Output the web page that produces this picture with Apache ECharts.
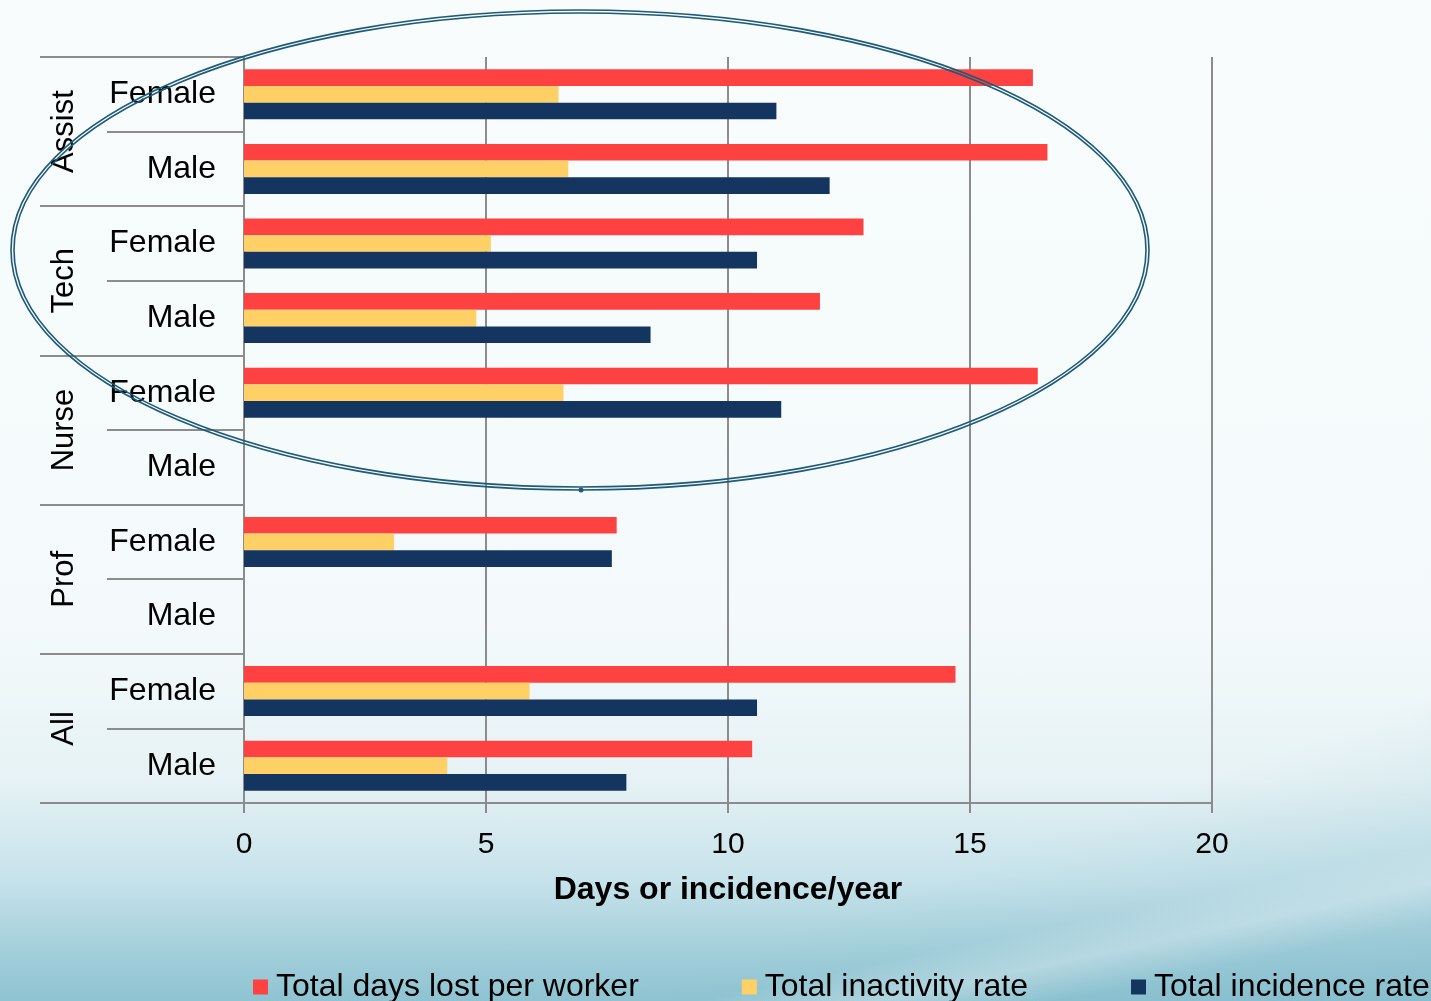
<!DOCTYPE html>
<html>
<head>
<meta charset="utf-8">
<title>Days lost and incidence by staff group</title>
<script src="https://cdn.jsdelivr.net/npm/echarts@6/dist/echarts.min.js"></script>
<style>
  html, body { margin: 0; padding: 0; width: 1431px; height: 1001px; overflow: hidden; }
  body {
    background:
      linear-gradient(160deg, rgba(142,195,209,0) 0%, rgba(142,195,209,0) 80%, rgba(120,180,198,0.35) 100%),
      linear-gradient(168deg, rgba(255,255,255,0) 0%, rgba(255,255,255,0) 88%, rgba(255,255,255,0.35) 91%, rgba(255,255,255,0) 94%),
      linear-gradient(to bottom, #f8fcfd 0%, #f4fafb 62%, #e6f2f5 78%, #c6e2ea 88%, #a3cfdb 95%, #8ec3d1 100%);
  }
  #chart { width: 1431px; height: 1001px; }
</style>
</head>
<body>
<div id="chart"></div>
<script>
// Staff groups (outer label) and sex (inner label), top to bottom
const groups = ['Assist', 'Tech', 'Nurse', 'Prof', 'All'];
const subCategories = ['Female', 'Male', 'Female', 'Male', 'Female', 'Male', 'Female', 'Male', 'Female', 'Male'];

// One value per row; null where no figure is reported
const daysLost = [16.3, 16.6, 12.8, 11.9, 16.4, null, 7.7, null, 14.7, 10.5];
const inactivityRate = [6.5, 6.7, 5.1, 4.8, 6.6, null, 3.1, null, 5.9, 4.2];
const incidenceRate = [11.0, 12.1, 10.6, 8.4, 11.1, null, 7.6, null, 10.6, 7.9];

const xTicks = { min: 0, max: 20, interval: 5 };

const gridLine = '#8c8c8c';
const font = 'Liberation Sans, Arial, sans-serif';

const chart = echarts.init(document.getElementById('chart'), null, { renderer: 'canvas' });

chart.setOption({
  backgroundColor: 'transparent',
  animation: false,
  textStyle: { fontFamily: font },
  grid: { left: 244, right: 219, top: 57, bottom: 198, containLabel: false },
  legend: {
    left: 253,
    top: 971,
    padding: 0,
    itemWidth: 15,
    itemHeight: 15,
    itemGap: 103,
    icon: 'rect',
    textStyle: { fontSize: 32, color: '#000', fontFamily: font, padding: [0, 0, 0, 3] },
    data: ['Total days lost per worker', 'Total inactivity rate', 'Total incidence rate']
  },
  xAxis: {
    type: 'value',
    min: xTicks.min,
    max: xTicks.max,
    interval: xTicks.interval,
    name: 'Days or incidence/year',
    nameLocation: 'middle',
    nameGap: 71,
    nameTextStyle: { fontSize: 32, fontWeight: 'bold', color: '#000', fontFamily: font },
    axisLine: { show: true, lineStyle: { color: gridLine, width: 2 } },
    axisTick: { show: true, length: 10, lineStyle: { color: gridLine, width: 2 } },
    axisLabel: { fontSize: 30, color: '#000', margin: 27, fontFamily: font },
    splitLine: { show: true, lineStyle: { color: gridLine, width: 2 } }
  },
  yAxis: [
    {
      type: 'category',
      inverse: true,
      data: subCategories,
      axisLine: { show: true, lineStyle: { color: gridLine, width: 2 } },
      axisTick: { show: true, length: 137, lineStyle: { color: gridLine, width: 2 } },
      axisLabel: { fontSize: 32, color: '#000', margin: 28, fontFamily: font, padding: [10, 0, 0, 0] },
      splitLine: { show: false }
    },
    {
      type: 'category',
      inverse: true,
      position: 'left',
      data: groups,
      axisLine: { show: false },
      axisTick: { show: true, length: 204, lineStyle: { color: gridLine, width: 2 } },
      axisLabel: { fontSize: 31, color: '#000', rotate: 90, margin: 164, fontFamily: font },
      splitLine: { show: false }
    }
  ],
  series: [
    {
      name: 'Total days lost per worker',
      type: 'bar',
      yAxisIndex: 0,
      data: daysLost,
      itemStyle: { color: '#fe4242' },
      barGap: '0%',
      barCategoryGap: '33%'
    },
    {
      name: 'Total inactivity rate',
      type: 'bar',
      yAxisIndex: 0,
      data: inactivityRate,
      itemStyle: { color: '#fed065' },
      barGap: '0%',
      barCategoryGap: '33%'
    },
    {
      name: 'Total incidence rate',
      type: 'bar',
      yAxisIndex: 0,
      data: incidenceRate,
      itemStyle: { color: '#13355f' },
      barGap: '0%',
      barCategoryGap: '33%'
    }
  ],
  // Hand-drawn emphasis ring around the upper groups
  graphic: [
    {
      type: 'ellipse',
      z: 100,
      shape: { cx: 580, cy: 250, rx: 569, ry: 240 },
      style: { fill: 'none', stroke: '#1f5a78', lineWidth: 1.6 }
    },
    {
      type: 'ellipse',
      z: 100,
      shape: { cx: 580, cy: 250, rx: 566, ry: 237 },
      style: { fill: 'none', stroke: '#1f5a78', lineWidth: 1.6 }
    },
    {
      type: 'circle',
      z: 101,
      shape: { cx: 581, cy: 490, r: 2.5 },
      style: { fill: '#1f5a78' }
    }
  ]
});
</script>
</body>
</html>
